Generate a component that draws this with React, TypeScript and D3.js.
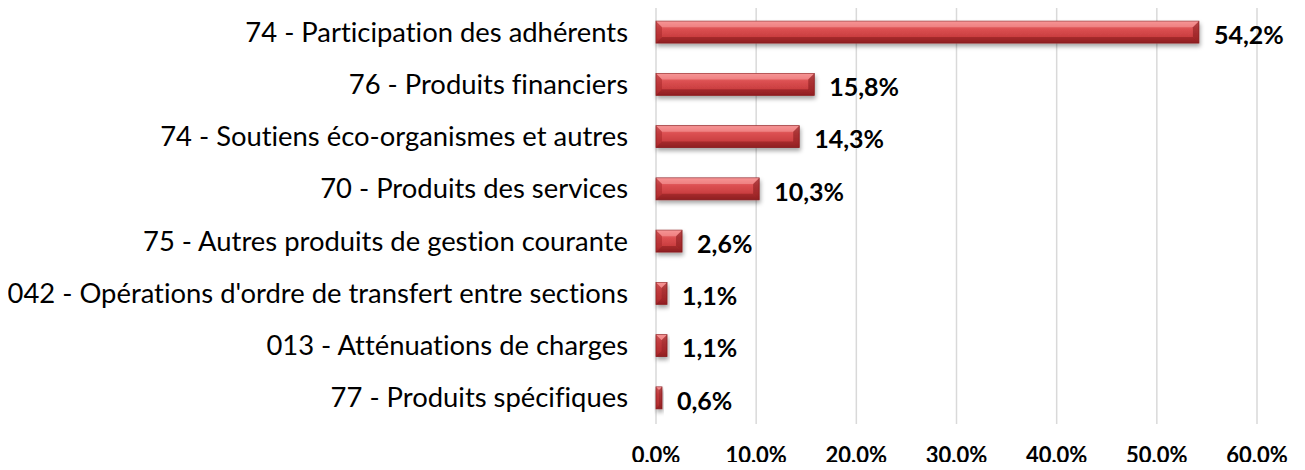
import React, { useEffect, useRef } from "react";
import * as d3 from "d3";

const categories = [
  "74 - Participation des adhérents",
  "76 - Produits financiers",
  "74 - Soutiens éco-organismes et autres",
  "70 - Produits des services",
  "75 - Autres produits de gestion courante",
  "042 - Opérations d'ordre de transfert entre sections",
  "013 - Atténuations de charges",
  "77 - Produits spécifiques",
];
const values = [54.2, 15.8, 14.3, 10.3, 2.6, 1.1, 1.1, 0.6];
const ticks = [0, 10, 20, 30, 40, 50, 60];

const width = 1305;
const height = 470;
const font = "Lato, 'Open Sans', sans-serif";
const fmt = (v: number) => v.toFixed(1).replace(".", ",") + "%";

const App = () => {
  const ref = useRef<SVGSVGElement>(null);

  useEffect(() => {
    const svg = d3.select(ref.current);
    svg.selectAll("*").remove();

    const x = d3.scaleLinear().domain([0, 60]).range([656, 1257]);
    const y = d3.scaleBand().domain(categories).range([6, 424]).paddingInner(0.58).paddingOuter(0.29);

    const defs = svg.append("defs");
    const grad = defs.append("linearGradient").attr("id", "barGrad").attr("x1", 0).attr("y1", 0).attr("x2", 0).attr("y2", 1);
    grad.append("stop").attr("offset", "0%").attr("stop-color", "#f08080");
    grad.append("stop").attr("offset", "35%").attr("stop-color", "#dc5052");
    grad.append("stop").attr("offset", "75%").attr("stop-color", "#c83c3e");
    grad.append("stop").attr("offset", "100%").attr("stop-color", "#a52a2c");
    const sh = defs.append("filter").attr("id", "shadow").attr("x", "-20%").attr("y", "-20%").attr("width", "140%").attr("height", "160%");
    sh.append("feDropShadow").attr("dx", 1).attr("dy", 3).attr("stdDeviation", 2).attr("flood-color", "#000").attr("flood-opacity", 0.35);

    // grid
    svg.append("g")
      .selectAll("line")
      .data(ticks)
      .join("line")
      .attr("x1", d => x(d)).attr("x2", d => x(d))
      .attr("y1", 6).attr("y2", 424)
      .attr("stroke", "#d9d9d9").attr("stroke-width", 1.5);

    // tick labels
    svg.append("g")
      .selectAll("text")
      .data(ticks)
      .join("text")
      .attr("x", d => x(d)).attr("y", 463)
      .attr("text-anchor", "middle")
      .style("font-family", font).style("font-size", "22px").style("font-weight", "bold")
      .attr("fill", "#000")
      .text(d => fmt(d));

    // category labels
    const labels = svg.append("g")
      .selectAll("text")
      .data(categories)
      .join("text")
      .attr("x", 628)
      .attr("y", d => y(d)! + y.bandwidth() / 2)
      .attr("dy", "0.35em")
      .attr("text-anchor", "end")
      .style("font-family", font).style("font-size", "27.4px")
      .style("font-variant-ligatures", "none")
      .attr("fill", "#000")
      .text(d => d);
    // keep the longest label inside the page
    labels.each(function () {
      const t = this as SVGTextElement;
      if (t.getComputedTextLength() > 626) {
        d3.select(t).attr("textLength", 626).attr("lengthAdjust", "spacingAndGlyphs");
      }
    });

    // bars
    const bars = svg.append("g")
      .selectAll("g")
      .data(values)
      .join("g")
      .attr("filter", "url(#shadow)");

    bars.each(function (v, i) {
      const g = d3.select(this);
      const x0 = x(0), x1 = x(v);
      const y0 = y(categories[i])!, y1 = y0 + y.bandwidth();
      const b = Math.min(6, (x1 - x0) / 2, (y1 - y0) / 2);
      g.append("rect").attr("x", x0).attr("y", y0).attr("width", x1 - x0).attr("height", y1 - y0)
        .attr("fill", "url(#barGrad)").attr("stroke", "#8e2426").attr("stroke-width", 0.8);
      const poly = (pts: number[][], c: string, o: number) =>
        g.append("polygon").attr("points", pts.map(p => p.join(",")).join(" ")).attr("fill", c).attr("opacity", o);
      poly([[x0, y0], [x1, y0], [x1 - b, y0 + b], [x0 + b, y0 + b]], "#ffb0b0", 0.45);
      poly([[x0, y1], [x1, y1], [x1 - b, y1 - b], [x0 + b, y1 - b]], "#6e1012", 0.4);
      poly([[x0, y0], [x0 + b, y0 + b], [x0 + b, y1 - b], [x0, y1]], "#a02224", 0.45);
      poly([[x1, y0], [x1 - b, y0 + b], [x1 - b, y1 - b], [x1, y1]], "#7a1416", 0.5);
    });

    // value labels
    svg.append("g")
      .selectAll("text")
      .data(values)
      .join("text")
      .attr("x", d => x(d) + 15)
      .attr("y", (d, i) => y(categories[i])! + y.bandwidth() / 2 + 3)
      .attr("dy", "0.35em")
      .style("font-family", font).style("font-size", "25px").style("font-weight", "bold")
      .attr("fill", "#000")
      .text(d => fmt(d));
  }, []);

  return <svg ref={ref} width={width} height={height} style={{ display: "block", margin: "-8px" }} />;
};

export default App;
